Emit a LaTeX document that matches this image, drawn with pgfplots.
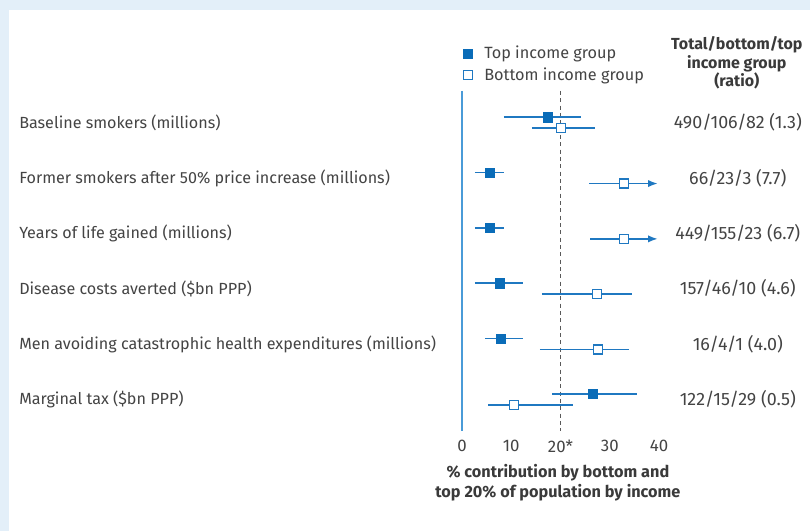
\documentclass[border=0pt]{standalone}
\usepackage{pgfplots}
\pgfplotsset{compat=1.18}
\usepackage{pgfplotstable}
\usepackage{fontspec}
\setmainfont{Fira Sans}
\usetikzlibrary{arrows.meta}
\definecolor{bgblue}{HTML}{E3EFF9}
\definecolor{bmjblue}{HTML}{0A6CB8}
\definecolor{linblue}{HTML}{1F78C1}
\definecolor{axblue}{HTML}{4A9BD8}
\definecolor{txt}{HTML}{444444}
\definecolor{hdr}{HTML}{3A3A3A}

\pgfplotstableread{
y lo x hi
0.9 8.5 17.4 24.1
1.9 2.6 5.7 8.5
2.9 2.6 5.7 8.5
3.9 2.6 7.7 12.4
4.9 4.7 7.9 12.4
5.9 18.3 26.6 35.5
}\topdata
\pgfplotstableread{
y lo x hi
1.1 14.2 20.1 27.0
4.1 16.2 27.4 34.5
5.1 15.8 27.6 33.9
6.1 5.3 10.5 22.5
}\botdata
\pgfplotstableread{
y lo x hi
2.1 25.8 32.9 39.8
3.1 26.0 32.9 39.8
}\botarrow
\pgfplotstableread{
y x
1.1 20.1
2.1 32.9
3.1 32.9
4.1 27.4
5.1 27.6
6.1 10.5
}\botmarks

\begin{document}
\begin{tikzpicture}[font=\fontsize{12.1}{14.5}\selectfont, text=txt]
\fill[bgblue] (0,0) rectangle (607.5pt,398.25pt);
\fill[white] (6.75pt,0) rectangle (607.5pt,390.75pt);
\begin{axis}[
  at={(346.5pt,75pt)}, anchor=south west,
  scale only axis, width=147.75pt, height=255pt,
  xmin=0, xmax=40, ymin=0.427, ymax=6.573, y dir=reverse,
  clip=false,
  axis x line*=bottom, axis y line*=left,
  x axis line style={draw=none},
  y axis line style={draw=axblue, line width=1.1pt, -},
  ytick=\empty,
  xtick={0,10,20,30,40}, xticklabels={0,10,20*,30,40},
  major tick length=0pt,
  /pgf/number format/assume math mode=true,
  tick label style={font=\fontsize{12.6}{14}\selectfont, text=txt},
  xticklabel style={yshift=-3.5pt},
  xlabel={\% contribution by bottom and\\top 20\% of population by income},
  xlabel style={at={(axis description cs:0.487,0)}, anchor=center, yshift=-38.5pt,
    align=center, font=\fontsize{12.2}{15}\selectfont\bfseries, text=hdr},
  legend style={at={(axis description cs:0.025,1.079)}, anchor=west, xshift=-3pt,
    draw=none, fill=none, inner sep=0pt, column sep=9pt, row sep=5pt,
    nodes={inner sep=0pt, anchor=west}, font=\fontsize{12.2}{14}\selectfont, text=txt},
  legend cell align=left,
  legend image code/.code={\draw[#1] plot coordinates {(0cm,0cm)};},
]
\addlegendimage{only marks, mark=square*, mark size=3.4pt, draw=bmjblue, fill=bmjblue}
\addlegendentry{Top income group}
\addlegendimage{only marks, mark=square*, mark size=3.4pt, draw=linblue, fill=white, mark options={line width=1pt}}
\addlegendentry{Bottom income group}

\addplot[densely dashed, draw=black!65, line width=0.8pt, dash pattern=on 3pt off 2.5pt, forget plot]
  coordinates {(20,0.427) (20,6.573)};

\addplot[draw=linblue, line width=1.4pt, no markers, forget plot,
  quiver={u=\thisrow{hi}-\thisrow{lo}, v=0}] table[x=lo, y=y] {\topdata};
\addplot[draw=linblue, line width=1.4pt, no markers, forget plot,
  quiver={u=\thisrow{hi}-\thisrow{lo}, v=0}] table[x=lo, y=y] {\botdata};
\addplot[draw=linblue, line width=1.4pt, no markers, forget plot,
  -{Latex[length=7.5pt,width=5.5pt]},
  quiver={u=\thisrow{hi}-\thisrow{lo}, v=0}] table[x=lo, y=y] {\botarrow};

\addplot[only marks, mark=square*, mark size=3.5pt, draw=bmjblue, fill=bmjblue, forget plot]
  table[x=x, y=y] {\topdata};
\addplot[only marks, mark=square*, mark size=3.4pt, draw=linblue, fill=white,
  mark options={line width=1pt}, forget plot]
  table[x=x, y=y] {\botmarks};

% row labels
\begin{scope}[every node/.style={inner sep=0pt}]
\node[anchor=west] at (axis cs:-89.95,1) {Baseline smokers (millions)};
\node[anchor=west] at (axis cs:-89.95,2) {Former smokers after 50\% price increase (millions)};
\node[anchor=west] at (axis cs:-89.95,3) {Years of life gained (millions)};
\node[anchor=west] at (axis cs:-89.95,4) {Disease costs averted (\$bn PPP)};
\node[anchor=west] at (axis cs:-89.95,5) {Men avoiding catastrophic health expenditures (millions)};
\node[anchor=west] at (axis cs:-89.95,6) {Marginal tax (\$bn PPP)};
\end{scope}
% ratio column
\begin{scope}[every node/.style={font=\fontsize{13.4}{15}\selectfont}]
\node at (axis cs:56.0,1) {490/106/82 (1.3)};
\node at (axis cs:56.0,2) {66/23/3 (7.7)};
\node at (axis cs:56.0,3) {449/155/23 (6.7)};
\node at (axis cs:56.0,4) {157/46/10 (4.6)};
\node at (axis cs:56.0,5) {16/4/1 (4.0)};
\node at (axis cs:56.0,6) {122/15/29 (0.5)};
\end{scope}
\node[align=center, font=\fontsize{12}{14}\selectfont\bfseries, text=hdr]
  at (axis cs:55.8,-0.08) {Total/bottom/top\\income group\\(ratio)};
\end{axis}
\end{tikzpicture}
\end{document}
